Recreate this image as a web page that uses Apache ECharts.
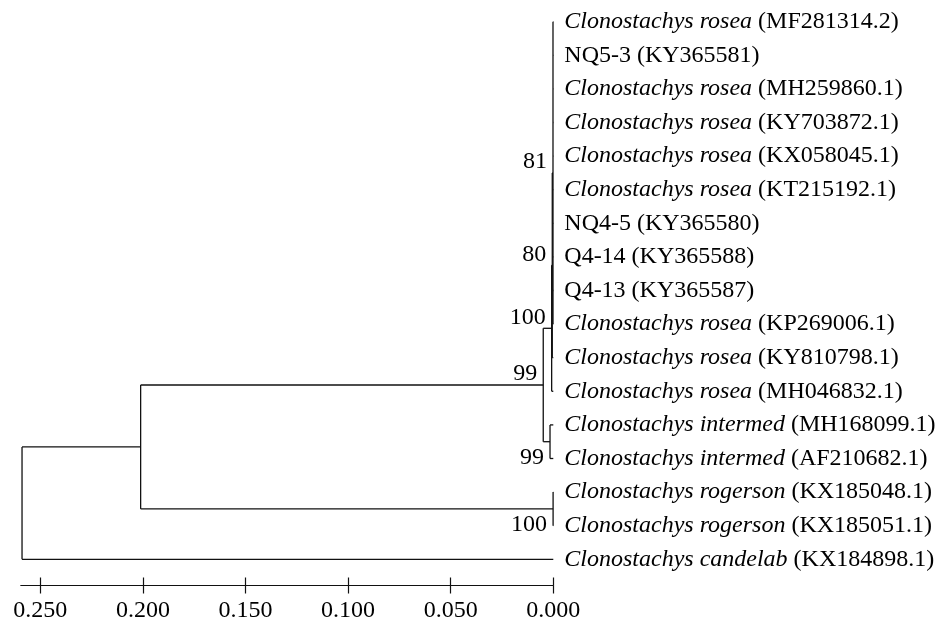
<!DOCTYPE html>
<html>
<head>
<meta charset="utf-8">
<script src="https://cdn.jsdelivr.net/npm/echarts@6.0.0/dist/echarts.min.js"></script>
<style>
html,body{margin:0;padding:0;background:#fff;}
#chart{width:935px;height:620px;}
</style>
</head>
<body>
<div id="chart"></div>
<script>
// ---------- data ----------
const leafTaxa = ['Clonostachys rosea','NQ5-3','Clonostachys rosea','Clonostachys rosea','Clonostachys rosea','Clonostachys rosea','NQ4-5','Q4-14','Q4-13','Clonostachys rosea','Clonostachys rosea','Clonostachys rosea','Clonostachys intermed','Clonostachys intermed','Clonostachys rogerson','Clonostachys rogerson','Clonostachys candelab'];
const leafItalic = [1,0,1,1,1,1,0,0,0,1,1,1,1,1,1,1,1];
const leafAccessions = ['MF281314.2','KY365581','MH259860.1','KY703872.1','KX058045.1','KT215192.1','KY365580','KY365588','KY365587','KP269006.1','KY810798.1','MH046832.1','MH168099.1','AF210682.1','KX185048.1','KX185051.1','KX184898.1'];
// internal nodes: id = 17 + index
const nodeChildren = [
  [0,1,2,3,4,5,6,7,8,9], // 17
  [17,10],               // 18
  [18,11],               // 19
  [12,13],               // 20
  [19,20],               // 21
  [14,15],               // 22
  [21,22],               // 23
  [23,16]                // 24 root
];
const nodeHeights = [0.00015, 0.0005, 0.0008, 0.0016, 0.0049, 0.0001, 0.2011, 0.2589];
const nodeBootstrap = [81, 80, 100, 99, 99, 100, null, null];
const tickValues = [0, 0.05, 0.10, 0.15, 0.20, 0.25];

// ---------- style ----------
const FONT = '"Liberation Serif","Times New Roman",serif';
const FS = 24;
const LINE = '#111';
const bootstrapBelow = {20: true, 22: true}; // node ids whose label sits below the branch

// ---------- build tree geometry ----------
const nLeaf = leafTaxa.length;
const posY = {}, posX = {};
for (let i = 0; i < nLeaf; i++) { posY[i] = i; posX[i] = 0; }
function layout(id) {
  if (id < nLeaf) return posY[id];
  const ch = nodeChildren[id - nLeaf];
  ch.forEach(layout);
  posY[id] = (posY[ch[0]] + posY[ch[ch.length - 1]]) / 2;
  posX[id] = nodeHeights[id - nLeaf];
  return posY[id];
}
const rootId = nLeaf + nodeChildren.length - 1;
layout(rootId);

const segments = [];
nodeChildren.forEach((ch, i) => {
  const id = nLeaf + i;
  segments.push([posX[id], posY[ch[0]], posX[id], posY[ch[ch.length - 1]]]);
  ch.forEach(c => segments.push([posX[id], posY[c], posX[c], posY[c]]));
});

const leafData = leafTaxa.map((t, i) => [posX[i], posY[i], i]);
const bootData = [];
nodeBootstrap.forEach((b, i) => { if (b != null) bootData.push([posX[nLeaf + i], posY[nLeaf + i], nLeaf + i, b]); });

// ---------- chart ----------
const chart = echarts.init(document.getElementById('chart'), null, {renderer: 'canvas'});
const gridLeft = 20.8, gridRight = 381.7;
const xMax = 0.2595;

chart.setOption({
  backgroundColor: '#fff',
  animation: false,
  grid: [
    {left: gridLeft, right: gridRight, top: 21.7, height: 537.6, outerBoundsMode: 'none', containLabel: false},
    {left: gridLeft, right: gridRight, top: 575, height: 10.5, outerBoundsMode: 'none', containLabel: false}
  ],
  xAxis: [
    {gridIndex: 0, type: 'value', min: 0, max: xMax, inverse: true, show: false},
    {gridIndex: 1, type: 'value', min: 0, max: xMax, inverse: true, position: 'bottom',
      axisLine: {show: true, lineStyle: {color: LINE, width: 1.2}},
      axisTick: {show: true, length: 8, customValues: tickValues, lineStyle: {color: LINE, width: 1.2}},
      axisLabel: {show: true, customValues: tickValues, margin: 13, color: '#000',
        fontFamily: FONT, fontSize: FS, formatter: v => v.toFixed(3)},
      splitLine: {show: false}},
    {gridIndex: 1, type: 'value', min: 0, max: xMax, inverse: true, position: 'bottom',
      axisLine: {show: false},
      axisTick: {show: true, inside: true, length: 8, customValues: tickValues, lineStyle: {color: LINE, width: 1.2}},
      axisLabel: {show: false}, splitLine: {show: false}}
  ],
  yAxis: [
    {gridIndex: 0, type: 'value', min: 0, max: nLeaf - 1, inverse: true, show: false},
    {gridIndex: 1, type: 'value', min: 0, max: 1, show: false}
  ],
  series: [
    {
      type: 'custom', xAxisIndex: 0, yAxisIndex: 0, data: segments, clip: false,
      encode: {x: [0, 2], y: [1, 3]},
      renderItem: (params, api) => {
        const p1 = api.coord([api.value(0), api.value(1)]);
        const p2 = api.coord([api.value(2), api.value(3)]);
        return {type: 'line', shape: {x1: p1[0], y1: p1[1], x2: p2[0], y2: p2[1]},
          style: {stroke: LINE, lineWidth: 1.3}};
      }
    },
    {
      type: 'custom', xAxisIndex: 0, yAxisIndex: 0, data: leafData, clip: false,
      encode: {x: 0, y: 1},
      renderItem: (params, api) => {
        const p = api.coord([api.value(0), api.value(1)]);
        const i = api.value(2);
        const txt = leafItalic[i]
          ? '{i|' + leafTaxa[i] + '}{r| (' + leafAccessions[i] + ')}'
          : '{r|' + leafTaxa[i] + ' (' + leafAccessions[i] + ')}';
        return {type: 'text', x: p[0] + 11, y: p[1],
          style: {text: txt, fill: '#000', fontFamily: FONT, fontSize: FS,
            align: 'left', verticalAlign: 'middle',
            rich: {
              i: {fontStyle: 'italic', fontFamily: FONT, fontSize: FS, fill: '#000'},
              r: {fontFamily: FONT, fontSize: FS, fill: '#000'}
            }}};
      }
    },
    {
      type: 'custom', xAxisIndex: 0, yAxisIndex: 0, data: bootData, clip: false,
      encode: {x: 0, y: 1},
      renderItem: (params, api) => {
        const p = api.coord([api.value(0), api.value(1)]);
        const id = api.value(2);
        const below = bootstrapBelow[id];
        return {type: 'text', x: p[0] - 6, y: p[1] + (below ? 16 : -11),
          style: {text: String(api.value(3)), fill: '#000', fontFamily: FONT, fontSize: FS,
            align: 'right', verticalAlign: 'middle'}};
      }
    }
  ]
});
</script>
</body>
</html>
